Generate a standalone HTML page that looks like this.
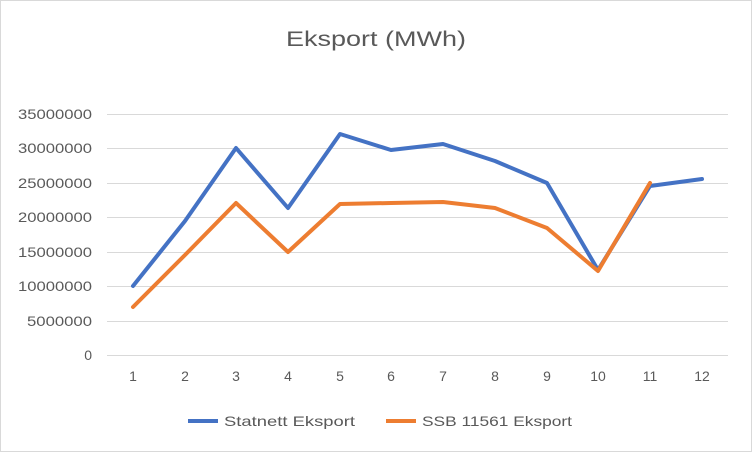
<!DOCTYPE html>
<html><head><style>
body{margin:0;background:#fff;}
svg{display:block;font-family:"Liberation Sans","DejaVu Sans",sans-serif;}
</style></head><body>
<svg width="752" height="452" viewBox="0 0 752 452" xmlns="http://www.w3.org/2000/svg">
<rect x="0.5" y="0.5" width="751" height="451" fill="#fff" stroke="#d9d9d9"/>
<text x="286" y="46" font-size="21" fill="#595959" textLength="180" lengthAdjust="spacingAndGlyphs">Eksport (MWh)</text>
<g stroke="#d9d9d9" stroke-width="1">
<line x1="107" x2="728" y1="114.5" y2="114.5"/>
<line x1="107" x2="728" y1="148.5" y2="148.5"/>
<line x1="107" x2="728" y1="183.5" y2="183.5"/>
<line x1="107" x2="728" y1="217.5" y2="217.5"/>
<line x1="107" x2="728" y1="252.5" y2="252.5"/>
<line x1="107" x2="728" y1="286.5" y2="286.5"/>
<line x1="107" x2="728" y1="321.5" y2="321.5"/>
<line x1="107" x2="728" y1="355.5" y2="355.5"/>
</g>
<g font-size="14" fill="#595959">
<text x="18" y="119" textLength="74" lengthAdjust="spacingAndGlyphs">35000000</text>
<text x="18" y="153" textLength="74" lengthAdjust="spacingAndGlyphs">30000000</text>
<text x="18" y="188" textLength="74" lengthAdjust="spacingAndGlyphs">25000000</text>
<text x="18" y="222" textLength="74" lengthAdjust="spacingAndGlyphs">20000000</text>
<text x="18" y="257" textLength="74" lengthAdjust="spacingAndGlyphs">15000000</text>
<text x="18" y="291" textLength="74" lengthAdjust="spacingAndGlyphs">10000000</text>
<text x="27" y="326" textLength="65" lengthAdjust="spacingAndGlyphs">5000000</text>
<text x="92" y="360" text-anchor="end">0</text>
</g>
<g font-size="14" fill="#595959" text-anchor="middle">
<text x="133" y="381">1</text><text x="185" y="381">2</text><text x="236" y="381">3</text>
<text x="288" y="381">4</text><text x="340" y="381">5</text><text x="391" y="381">6</text>
<text x="443" y="381">7</text><text x="495" y="381">8</text><text x="547" y="381">9</text>
<text x="598" y="381">10</text><text x="650" y="381">11</text><text x="702" y="381">12</text>
</g>
<polyline fill="none" stroke="#4472c4" stroke-width="4" stroke-linejoin="round" stroke-linecap="round"
points="133,286 185,221 236,148 288,208 340,134 391,150 443,144 495,161 547,183 598,270 650,186 702,179"/>
<polyline fill="none" stroke="#ed7d31" stroke-width="4" stroke-linejoin="round" stroke-linecap="round"
points="133,307 185,255 236,203 288,252 340,204 391,203 443,202 495,208 547,228 598,271 650,183"/>
<line x1="188" x2="218" y1="421" y2="421" stroke="#4472c4" stroke-width="4"/>
<text x="224" y="426" font-size="14" fill="#595959" textLength="131" lengthAdjust="spacingAndGlyphs">Statnett Eksport</text>
<line x1="386" x2="416" y1="421" y2="421" stroke="#ed7d31" stroke-width="4"/>
<text x="422" y="426" font-size="14" fill="#595959" textLength="150" lengthAdjust="spacingAndGlyphs">SSB 11561 Eksport</text>
</svg>
</body></html>
